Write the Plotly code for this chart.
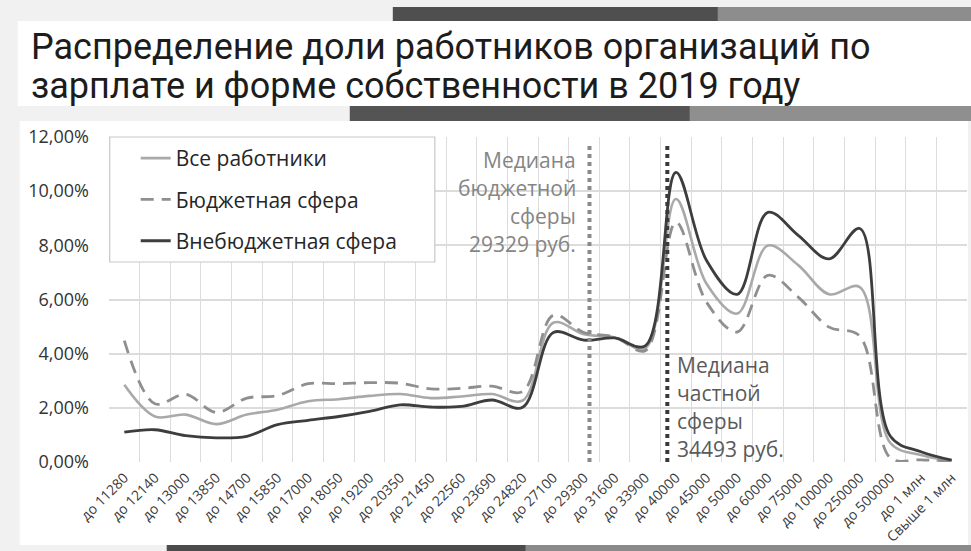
import plotly.graph_objects as go

# Salary brackets (upper bounds, RUB per month)
categories = ["до 11280", "до 12140", "до 13000", "до 13850", "до 14700", "до 15850",
              "до 17000", "до 18050", "до 19200", "до 20350", "до 21450", "до 22560",
              "до 23690", "до 24820", "до 27100", "до 29300", "до 31600", "до 33900",
              "до 40000", "до 45000", "до 50000", "до 60000", "до 75000", "до 100000",
              "до 250000", "до 500000", "до 1 млн", "Свыше 1 млн"]

# Share of employees in each bracket, %
all_workers = [2.85, 1.68, 1.75, 1.40, 1.75, 1.93, 2.24, 2.32, 2.44, 2.51, 2.36, 2.42,
               2.51, 2.27, 5.14, 4.72, 4.60, 4.20, 9.71, 6.58, 5.48, 7.99, 7.26, 6.19,
               6.46, 0.70, 0.26, 0.05]
budget_sector = [4.48, 2.15, 2.50, 1.83, 2.36, 2.45, 2.89, 2.89, 2.93, 2.91, 2.70, 2.72,
                 2.80, 2.60, 5.42, 4.78, 4.62, 4.11, 8.85, 5.90, 4.80, 6.89, 6.08, 4.98,
                 4.65, 0.15, 0.08, 0.04]
private_sector = [1.10, 1.19, 0.97, 0.89, 0.95, 1.38, 1.54, 1.68, 1.87, 2.11, 2.03, 2.05,
                  2.29, 2.02, 4.78, 4.50, 4.58, 4.29, 10.69, 7.44, 6.19, 9.22, 8.36, 7.50,
                  8.62, 0.95, 0.38, 0.07]

series_names = ["Все работники", "Бюджетная сфера", "Внебюджетная сфера"]

# Median salaries and where their markers sit on the category axis
median_labels = [["Медиана", "бюджетной", "сферы", "29329 руб."],
                 ["Медиана", "частной", "сферы", "34493 руб."]]
median_axis_pos = [15.18, 17.72]

W, H = 971, 551
FONT = "Open Sans"
# plot area in pixels
PL, PR, PT, PB = 109.3, 967.0, 137.0, 462.0
x_idx = list(range(len(categories)))


def px_x(x):
    return (x - PL) / (PR - PL)


def px_y(y):
    return (PB - y) / (PB - PT)


fig = go.Figure()

styles = [
    dict(color="#a9a9a9", width=2.6, dash="solid"),
    dict(color="#8f8f8f", width=2.8, dash="13px,8px"),
    dict(color="#3d3d3d", width=2.8, dash="solid"),
]
for i, (name, vals, st) in enumerate(zip(series_names,
                                          [all_workers, budget_sector, private_sector],
                                          styles)):
    fig.add_trace(go.Scatter(
        x=x_idx, y=[v / 100 for v in vals], name=name, mode="lines",
        line=dict(shape="spline", smoothing=1.0, **st),
        legendgroup=f"g{i}", hoverinfo="skip",
    ))


def px_rect(x0, x1, y0, y1, color, layer="below"):
    return dict(type="rect", xref="paper", yref="paper", layer=layer,
                x0=px_x(x0), x1=px_x(x1), y0=px_y(y1), y1=px_y(y0),
                fillcolor=color, line_width=0)


shapes = [
    px_rect(0, 971, 0, 551, "#f1f1f1"),         # page
    px_rect(18, 971, 21, 106, "#ffffff"),       # title panel
    px_rect(20, 968, 121, 545, "#ffffff"),      # chart panel
    px_rect(393, 718, 7, 21, "#4f4f4f"),        # top band
    px_rect(718, 971, 7, 21, "#8d8d8d"),
    px_rect(350, 690, 106, 121, "#545454"),     # band under the title
    px_rect(690, 971, 106, 121, "#8f8f8f"),
    px_rect(167, 526, 545, 551, "#4c4c4c"),     # bottom band
    px_rect(526, 971, 545, 551, "#8a8a8a"),
]

# legend frame
frame = px_rect(110, 435, 137, 262, "#ffffff", layer="above")
frame["line"] = dict(color="#c8c8c8", width=1.2)
frame.pop("line_width")
shapes.append(frame)

# median markers
median_colors = ["#8a8a8a", "#3a3a3a"]
for pos, col in zip(median_axis_pos, median_colors):
    shapes.append(dict(type="line", xref="x", yref="y", x0=pos, x1=pos, y0=0, y1=0.117,
                       line=dict(color=col, width=4, dash="dot")))

annotations = []
# title
title_lines = ["Распределение доли работников организаций по",
               "зарплате и форме собственности в 2019 году"]
for line, yc in zip(title_lines, [47, 86]):
    annotations.append(dict(text=line, xref="paper", yref="paper", x=px_x(29),
                            y=px_y(yc), xanchor="left", yanchor="middle",
                            showarrow=False,
                            font=dict(family="Roboto", size=36, color="#1c1c1c")))

text_colors = ["#858585", "#5a5a5a"]
first_line_y = [11.15, 3.58]
for k, (lines, pos, col, y0) in enumerate(zip(median_labels, median_axis_pos,
                                             text_colors, first_line_y)):
    for j, line in enumerate(lines):
        annotations.append(dict(
            text=line, x=pos, y=(y0 - j * 1.035) / 100, xref="x", yref="y",
            xanchor="right" if k == 0 else "left", yanchor="middle",
            xshift=-11 if k == 0 else 8, showarrow=False,
            font=dict(family=FONT, size=21, color=col)))

fig.update_layout(
    width=W, height=H,
    margin=dict(l=PL, r=W - PR, t=PT, b=H - PB, autoexpand=False),
    paper_bgcolor="#ffffff", plot_bgcolor="rgba(0,0,0,0)",
    separators=", ",
    font=dict(family=FONT, color="#404040"),
    shapes=shapes, annotations=annotations,
    showlegend=True,
    legend=dict(x=px_x(136), y=px_y(138), xanchor="left", yanchor="top",
                bgcolor="rgba(0,0,0,0)",
                font=dict(family=FONT, size=21, color="#262626"),
                tracegroupgap=11, itemwidth=30),
    xaxis=dict(range=[-0.5, len(categories) - 0.5], tickmode="array",
               tickvals=x_idx, ticktext=categories, tickangle=-45, automargin=False,
               tickfont=dict(family=FONT, size=14, color="#3a3a3a"),
               showgrid=False, zeroline=False, showline=False, ticks="",
               ticklabelstandoff=4,
               minor=dict(tickmode="array",
                          tickvals=[i - 0.5 for i in range(len(categories) + 1)],
                          showgrid=True, gridcolor="#dcdcdc", gridwidth=1, ticks="")),
    yaxis=dict(range=[0, 0.12], tickmode="array", automargin=False,
               tickvals=[0, 0.02, 0.04, 0.06, 0.08, 0.10, 0.12], tickformat=".2%",
               tickfont=dict(family=FONT, size=18, color="#333333"),
               showgrid=True, gridcolor="#dcdcdc", gridwidth=1.5, zeroline=False,
               showline=False, ticks="", ticklabelstandoff=19),
)

fig.write_html("out.html")
